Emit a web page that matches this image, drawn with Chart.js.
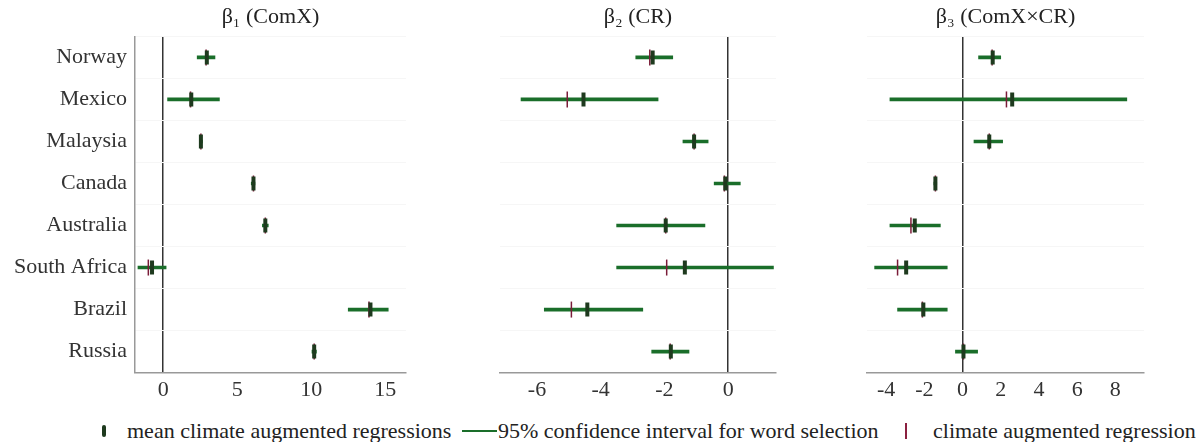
<!DOCTYPE html>
<html>
<head>
<meta charset="utf-8">
<script src="https://cdn.jsdelivr.net/npm/chart.js@4.4.0/dist/chart.umd.min.js"></script>
<style>
  body { margin: 0; background: #fff; }
  #wrap { position: relative; width: 1197px; height: 442px; overflow: hidden; font-family: "Liberation Serif", serif; }
  .panel { position: absolute; top: 0; height: 410px; }
  #legend { position: absolute; top: 418px; left: 0; width: 1197px; height: 24px; font-size: 22px; color: #222; }
  #legend span { position: absolute; top: 0; white-space: nowrap; }
</style>
</head>
<body>
<div id="wrap">
  <div class="panel" style="left:0;width:417px"><canvas id="c1"></canvas></div>
  <div class="panel" style="left:440px;width:347px"><canvas id="c2"></canvas></div>
  <div class="panel" style="left:800px;width:355px"><canvas id="c3"></canvas></div>
  <div id="legend">
    <span style="left:102px;top:7px;width:4px;height:12px;background:#1e3a1e;border-radius:2px"></span>
    <span style="left:127px">mean climate augmented regressions</span>
    <span style="left:462px;top:12px;width:35px;height:2px;background:#1a6e2a"></span>
    <span style="left:498px">95% confidence interval for word selection</span>
    <span style="left:905px;top:5px;width:2px;height:16px;background:#8b2040"></span>
    <span style="left:933px">climate augmented regression</span>
  </div>
</div>
<script>
// countries, top to bottom
const countries = ['Norway', 'Mexico', 'Malaysia', 'Canada', 'Australia', 'South Africa', 'Brazil', 'Russia']

// beta1 (ComX)
const b1Low  = [2.3, 0.3, 2.45, 5.95, 6.7, -1.7, 12.5, 10.05]
const b1High = [3.5, 3.8, 2.65, 6.2, 7.1, 0.2, 15.2, 10.35]
const b1Mean = [2.95, 1.9, 2.55, 6.1, 6.9, -0.75, 14.0, 10.2]
const b1Aug  = [2.9, 1.85, 2.55, 6.1, 6.9, -1.0, 13.9, 10.2]

// beta2 (CR)
const b2Low  = [-2.9, -6.5, -1.42, -0.44, -3.5, -3.5, -5.77, -2.4]
const b2High = [-1.74, -2.2, -0.63, 0.38, -0.73, 1.42, -2.68, -1.23]
const b2Mean = [-2.37, -4.54, -1.07, -0.09, -1.96, -1.36, -4.42, -1.8]
const b2Aug  = [-2.46, -5.05, -1.07, -0.12, -1.96, -1.93, -4.92, -1.82]

// beta3 (ComX x CR)
const b3Low  = [0.84, -3.8, 0.6, -1.5, -3.8, -4.6, -3.4, -0.37]
const b3High = [2.0, 8.6, 2.1, -1.35, -1.16, -0.8, -0.8, 0.79]
const b3Mean = [1.58, 2.6, 1.4, -1.42, -2.5, -2.95, -2.05, 0.05]
const b3Aug  = [1.55, 2.3, 1.4, -1.42, -2.7, -3.4, -2.1, 0.05]

const b1Ticks = [0, 5, 10, 15]
const b2Ticks = [-6, -4, -2, 0]
const b3Ticks = [-4, -2, 0, 2, 4, 6, 8]

Chart.defaults.font.family = '"Liberation Serif", serif'
Chart.defaults.font.size = 22
Chart.defaults.color = '#333'

function makePanel(id, title, lo, hi, mean, aug, ticks, xmin, xmax, yWidth, padRight, showLabels) {
    let ctx = document.getElementById(id).getContext('2d')
    return new Chart(ctx, {
        type: 'bar',
        data: {
            labels: countries,
            datasets: [{
                data: lo.map(function (v, i) { return [v, hi[i]] }),
                backgroundColor: '#1a6e2a',
                barThickness: 3,
                borderSkipped: false,
                order: 3
            }, {
                type: 'line',
                indexAxis: 'y',
                showLine: false,
                data: aug.map(function (v, i) { return { x: v, y: countries[i] } }),
                pointStyle: 'line',
                rotation: 90,
                radius: 8,
                borderWidth: 1.5,
                borderColor: '#7a1c38',
                order: 2
            }, {
                type: 'line',
                indexAxis: 'y',
                showLine: false,
                data: mean.map(function (v, i) { return { x: v, y: countries[i] } }),
                pointStyle: 'line',
                rotation: 90,
                radius: 7,
                borderWidth: 4,
                borderColor: '#1e3a1e',
                order: 1
            }]
        },
        options: {
            indexAxis: 'y',
            responsive: true,
            maintainAspectRatio: false,
            animation: false,
            layout: { padding: { top: 4, right: padRight, bottom: 3, left: 0 } },
            scales: {
                x: {
                    type: 'linear',
                    min: xmin,
                    max: xmax,
                    afterBuildTicks: function (scale) {
                        scale.ticks = ticks.map(function (v) { return { value: v } })
                    },
                    ticks: { padding: 4, color: '#333', callback: function (v) { return String(v) } },
                    grid: {
                        drawTicks: false,
                        color: function (c) { return c.tick && c.tick.value === 0 ? '#333' : 'rgba(0,0,0,0)' },
                        lineWidth: 1.5
                    },
                    border: { display: true, color: '#999', width: 1.5 }
                },
                y: {
                    afterFit: function (scale) { scale.width = yWidth },
                    ticks: { display: showLabels, padding: 8, color: '#333' },
                    grid: { drawTicks: false, color: '#f6f6f6', lineWidth: 1 },
                    border: { display: showLabels, color: '#999', width: 1.5 }
                }
            },
            plugins: {
                legend: { display: false },
                tooltip: { enabled: false },
                title: {
                    display: true,
                    text: title,
                    fullSize: false,
                    color: '#222',
                    font: { size: 22, weight: 'normal' },
                    padding: { top: 0, bottom: 6 }
                }
            }
        }
    })
}

makePanel('c1', 'β₁ (ComX)', b1Low, b1High, b1Mean, b1Aug, b1Ticks, -1.9, 16.4, 135, 2, true)
makePanel('c2', 'β₂ (CR)', b2Low, b2High, b2Mean, b2Aug, b2Ticks, -7.16, 1.5, 60, 5, false)
makePanel('c3', 'β₃ (ComX×CR)', b3Low, b3High, b3Mean, b3Aug, b3Ticks, -5.0, 9.5, 67, 7, false)
</script>
</body>
</html>
